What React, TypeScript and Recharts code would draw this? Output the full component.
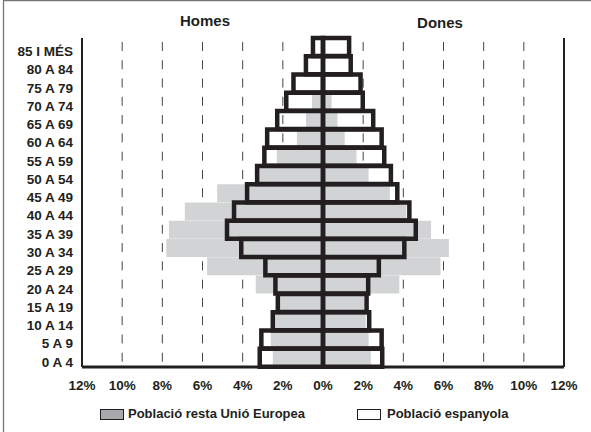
import { BarChart, Bar, XAxis, YAxis, CartesianGrid } from 'recharts';

const categories = [
  '85 I MÉS', '80 A 84', '75 A 79', '70 A 74', '65 A 69', '60 A 64',
  '55 A 59', '50 A 54', '45 A 49', '40 A 44', '35 A 39', '30 A 34',
  '25 A 29', '20 A 24', '15 A 19', '10 A 14', '5 A 9', '0 A 4',
];
// Població espanyola (%)
const espHomes = [0.5, 0.85, 1.47, 1.83, 2.28, 2.78, 2.92, 3.28, 3.78, 4.43, 4.78, 4.07, 2.87, 2.37, 2.25, 2.5, 3.07, 3.15];
const espDones = [1.3, 1.38, 1.87, 1.98, 2.5, 2.92, 3.05, 3.38, 3.7, 4.3, 4.62, 4.05, 2.78, 2.25, 2.17, 2.3, 2.92, 2.95];
// Població resta Unió Europea (%)
const ueHomes = [0.08, 0.1, 0.15, 0.55, 0.85, 1.3, 2.3, 3.2, 5.27, 6.88, 7.67, 7.8, 5.77, 3.35, 2.2, 2.45, 2.6, 2.5];
const ueDones = [0.08, 0.1, 0.15, 0.43, 0.72, 1.08, 1.67, 2.27, 3.33, 4.15, 5.38, 6.27, 5.85, 3.8, 2.05, 2.13, 2.27, 2.38];
const xTicks = [-12, -10, -8, -6, -4, -2, 0, 2, 4, 6, 8, 10, 12];

const data = categories.map((c, i) => ({
  edat: c,
  ueH: -ueHomes[i],
  ueD: ueDones[i],
  espH: -espHomes[i],
  espD: espDones[i],
}));

const FONT = '"Liberation Sans", Arial, sans-serif';
const INK = '#231f20';

const AgeTick = (props: any) => {
  const { x, y, payload } = props;
  return (
    <text x={x} y={y + 4} dy="0.36em" textAnchor="end" fill={INK}
      fontFamily={FONT} fontWeight="bold" fontSize={13.5}>
      {payload.value}
    </text>
  );
};

const GridLine = (props: any) => (
  <line key={'g' + props.x1} x1={props.x1} y1={props.y1} x2={props.x2} y2={props.y2}
    stroke="#444" strokeWidth={1} strokeDasharray="9 9.28" strokeDashoffset={14.3} />
);

export default function App() {
  return (
    <div style={{ position: 'absolute', left: 0, top: 0, width: 591, height: 432, background: '#fff' }}>
      <BarChart width={591} height={432} data={data} layout="vertical"
        stackOffset="sign" barCategoryGap={0} barGap={0}
        margin={{ top: 38, right: 26, bottom: 35, left: 0 }}>
        <CartesianGrid horizontal={false} yAxisId="g" vertical={GridLine} />
        <XAxis type="number" domain={[-12, 12]} ticks={xTicks} allowDataOverflow
          tickFormatter={(v: number) => Math.abs(v) + '%'}
          axisLine={{ stroke: INK, strokeWidth: 3 }} tickLine={false} tickSize={0} tickMargin={13}
          height={30}
          tick={{ fill: INK, fontFamily: FONT, fontWeight: 'bold', fontSize: 13.5 }} />
        <XAxis xAxisId="top" type="number" domain={[-12, 12]} orientation="top" height={0}
          tick={false} tickLine={false} axisLine={{ stroke: '#333', strokeWidth: 1.5 }} />
        <YAxis yAxisId="g" type="category" dataKey="edat" width={82}
          axisLine={{ stroke: INK, strokeWidth: 2 }} tickLine={false} tickSize={0} tickMargin={9}
          tick={AgeTick} interval={0} />
        <YAxis yAxisId="s" type="category" dataKey="edat" orientation="right" width={1}
          axisLine={{ stroke: INK, strokeWidth: 2 }} tickLine={false} tick={false} />
        <Bar yAxisId="g" dataKey="ueH" stackId="ue" fill="#d1d3d4" isAnimationActive={false} />
        <Bar yAxisId="g" dataKey="ueD" stackId="ue" fill="#d1d3d4" isAnimationActive={false} />
        <Bar yAxisId="s" dataKey="espH" stackId="esp" fill="none" stroke={INK} strokeWidth={4.5}
          isAnimationActive={false} />
        <Bar yAxisId="s" dataKey="espD" stackId="esp" fill="none" stroke={INK} strokeWidth={4.5}
          isAnimationActive={false} />
      </BarChart>
      <svg width={591} height={432} style={{ position: 'absolute', left: 0, top: 0, pointerEvents: 'none' }}>
        <line x1={3.5} y1={0} x2={3.5} y2={432} stroke="#777" strokeWidth={1.3} />
        <line x1={3} y1={0.7} x2={591} y2={0.7} stroke="#777" strokeWidth={1.3} />
        <text x={205} y={26} textAnchor="middle" fill={INK} fontFamily={FONT} fontWeight="bold" fontSize={15}>Homes</text>
        <text x={440} y={28} textAnchor="middle" fill={INK} fontFamily={FONT} fontWeight="bold" fontSize={15}>Dones</text>
        <rect x={100.5} y={409.5} width={23} height={10} fill="#a7a9ac" stroke={INK} strokeWidth={1} />
        <text x={128} y={418} fill={INK} fontFamily={FONT} fontWeight="bold" fontSize={13}>Població resta Unió Europea</text>
        <rect x={357.5} y={409.5} width={23} height={10} fill="#fff" stroke={INK} strokeWidth={1} />
        <text x={387} y={418} fill={INK} fontFamily={FONT} fontWeight="bold" fontSize={13}>Població espanyola</text>
      </svg>
    </div>
  );
}
